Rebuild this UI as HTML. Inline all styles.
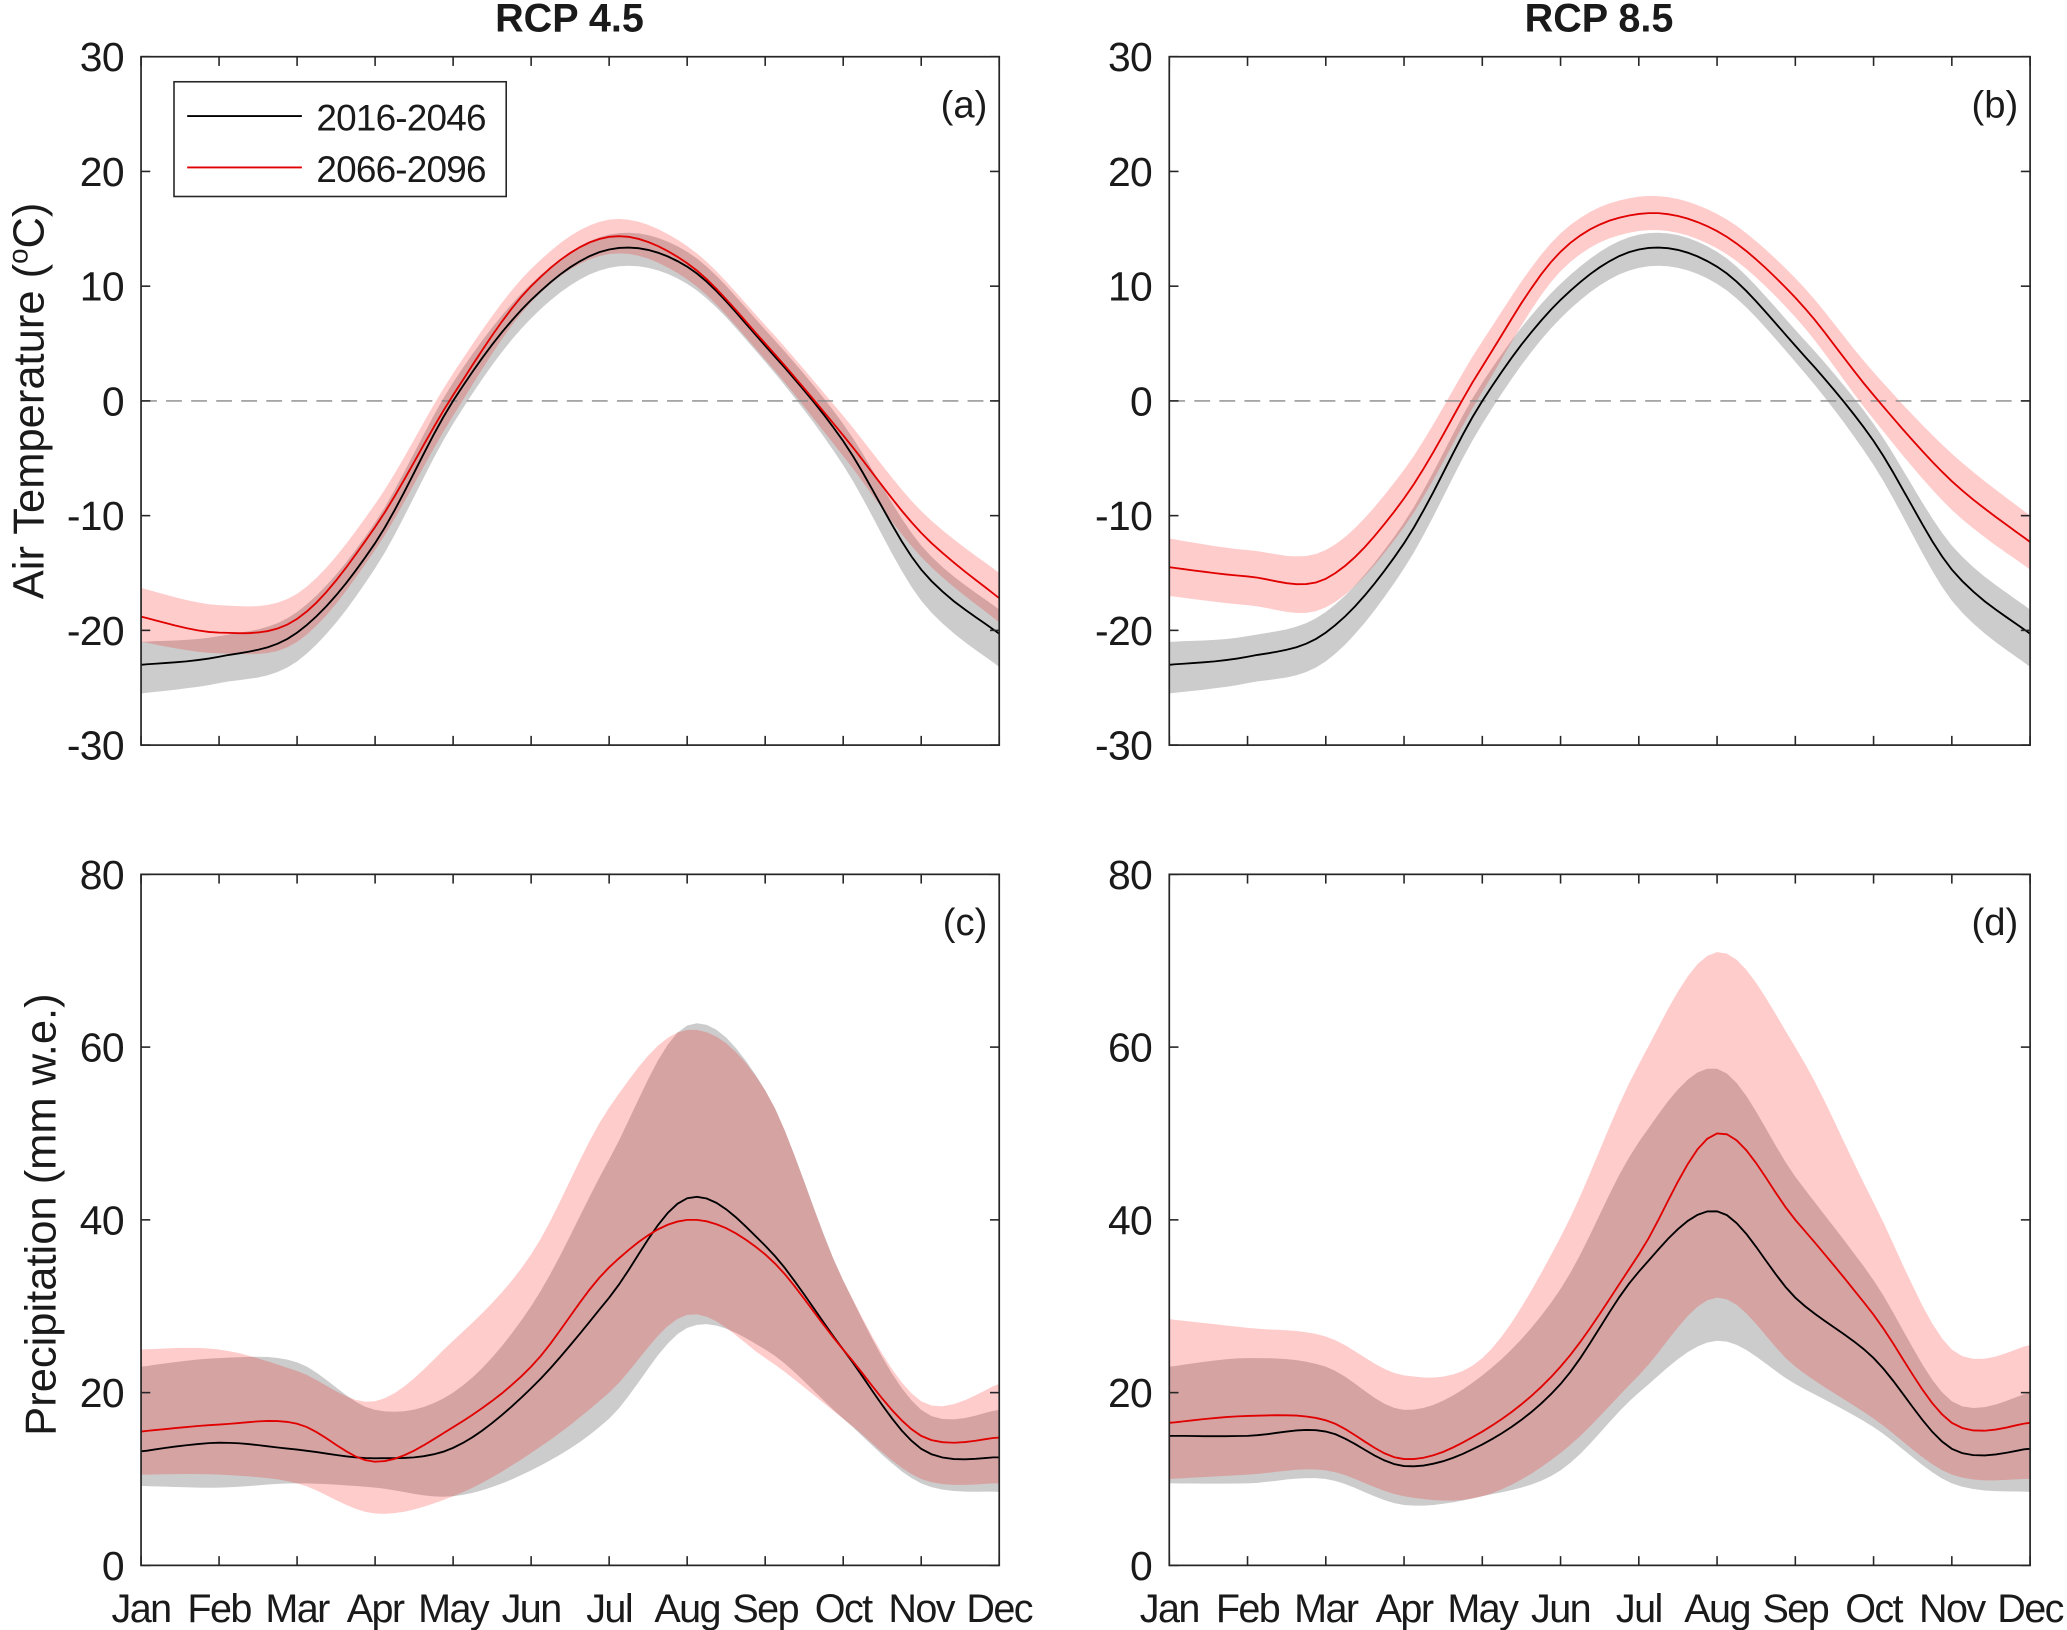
<!DOCTYPE html>
<html><head><meta charset="utf-8"><style>
html,body{margin:0;padding:0;background:#fff}
svg{display:block}
text{font-family:"Liberation Sans",Arial,sans-serif;fill:#1a1a1a}
</style></head><body>
<svg id="fig" width="2067" height="1630" viewBox="0 0 1568 1236" preserveAspectRatio="none" xmlns="http://www.w3.org/2000/svg"></svg>
<script>
const months = ["Jan","Feb","Mar","Apr","May","Jun","Jul","Aug","Sep","Oct","Nov","Dec"];
const tempTicks = [30,20,10,0,-10,-20,-30];
const precTicks = [80,60,40,20,0];
// Panel (a) RCP 4.5 temperature
const aBlack = [-23,-22.3,-20.2,-12.4,0,8.8,13.2,11.7,4.8,-3.5,-14.7,-20.3];
const aBlackLo = [-25.5,-24.6,-22.7,-14.6,-2,7.2,11.6,10.2,3.4,-5.6,-17.4,-23.2];
const aBlackHi = [-21,-20.5,-18.4,-10.6,1.6,10.2,14.5,13,6.2,-2,-12.6,-18.2];
const aRed = [-18.8,-20.2,-19,-11,0.5,10,14.3,12,5,-3,-11.5,-17.2];
const aRedLo = [-21,-22,-21,-13,-1.3,8.6,12.8,10.6,3.6,-4.8,-13.6,-19.3];
const aRedHi = [-16.3,-17.8,-16.8,-9,2.4,11.5,15.8,13.5,6.6,-1.3,-9.6,-15];
// Panel (b) RCP 8.5 temperature
const bBlack = aBlack, bBlackLo = aBlackLo, bBlackHi = aBlackHi;
const bRed = [-14.5,-15.3,-15.5,-8.5,3,13,16.3,14.8,9,0.5,-7,-12.3];
const bRedLo = [-17,-17.8,-18,-11,0.8,11.3,14.8,13.3,7.3,-1.6,-9.5,-14.7];
const bRedHi = [-12,-13,-13,-6,5.2,14.6,17.8,16.3,10.7,2.5,-4.6,-10];
// Panel (c) RCP 4.5 precipitation
const cBlack = [13.2,14.2,13.4,12.4,13.6,20.5,31,42.5,37,25,13.5,12.5];
const cBlackLo = [9.2,9,9.5,9,8,11,17,27.5,25,17,9.5,8.5];
const cBlackHi = [23,24,23.5,18,20,30,47,62.5,55,33,18,18];
const cRed = [15.5,16.3,16.4,12,16,23,34.5,40,36,25,15,14.8];
const cRedLo = [10.5,10.5,9.5,6,8,13,20,29,24,17,10,9.5];
const cRedHi = [25,25,22.5,19,26,36,53,62,55,33,19,21];
// Panel (d) RCP 8.5 precipitation
const dBlack = [15,15,15.5,11.5,14,21,34,41,31,24,13.5,13.5];
const dBlackLo = [9.5,9.5,10,7,8,11,20,26,21,16,9.5,8.5];
const dBlackHi = [23,24,23,18,22,32,49,57.5,45,33,19,20];
const dRed = [16.5,17.3,16.8,12.3,15.5,23,36,50,40,29,16.5,16.5];
const dRedLo = [10,10.5,11,8,8,13,22,31,23,17,10.5,10];
const dRedHi = [28.5,27.5,26.5,22,24,38,58,71,60,42,25,25.5];

const NS="http://www.w3.org/2000/svg";
const svg=document.getElementById('fig');
function mk(tag,attrs,parent){const e=document.createElementNS(NS,tag);for(const k in attrs)e.setAttribute(k,attrs[k]);(parent||svg).appendChild(e);return e;}

function smoothPts(xs,ys){
  const out=[];const n=xs.length;
  for(let i=0;i<n-1;i++){
    const p0=[xs[Math.max(i-1,0)],ys[Math.max(i-1,0)]],p1=[xs[i],ys[i]],p2=[xs[i+1],ys[i+1]],p3=[xs[Math.min(i+2,n-1)],ys[Math.min(i+2,n-1)]];
    for(let s=0;s<8;s++){const t=s/8,t2=t*t,t3=t2*t;
      const f=(a,b,c,d)=>0.5*(2*b+(-a+c)*t+(2*a-5*b+4*c-d)*t2+(-a+3*b-3*c+d)*t3);
      out.push([f(p0[0],p1[0],p2[0],p3[0]),f(p0[1],p1[1],p2[1],p3[1])]);}
  }
  out.push([xs[n-1],ys[n-1]]);return out;
}

function panel(opt){
  const g=mk('g',{});
  
  
  const L=opt.x0,R=opt.x1,T=opt.y0,B=opt.y1;
  const xS=i=>L+(R-L)*i/11;
  const yS=v=>B-(B-T)*(v-opt.min)/(opt.max-opt.min);
  const xs=months.map((m,i)=>xS(i));
  function band(lo,hi,fill,nm){
    const a=smoothPts(xs,hi.map(yS)),b=smoothPts(xs,lo.map(yS)).reverse();
    const p=mk('path',{d:'M'+a.concat(b).map(q=>q[0].toFixed(1)+','+q[1].toFixed(1)).join('L')+'Z',fill:fill},g);
    
    
  }
  function line(v,col,nm){
    const a=smoothPts(xs,v.map(yS));
    const p=mk('path',{d:'M'+a.map(q=>q[0].toFixed(1)+','+q[1].toFixed(1)).join('L'),fill:'none',stroke:col,'stroke-width':1.4},g);
    
    
  }
  band(opt.bLo,opt.bHi,'#cccccc','band-2016-2046');
  band(opt.rLo,opt.rHi,'rgba(255,0,0,0.2)','band-2066-2096');
  if(opt.zero){const z=mk('line',{x1:L,x2:R,y1:yS(0),y2:yS(0),stroke:'#888','stroke-width':1,'stroke-dasharray':'12,7'},g);
    }
  line(opt.b,'#000','line-2016-2046');
  line(opt.r,'#e00000','line-2066-2096');
  const box=mk('rect',{x:L,y:T,width:R-L,height:B-T,fill:'none',stroke:'#262626','stroke-width':1.3},g);
  
  months.forEach((m,i)=>{
    mk('line',{x1:xS(i),x2:xS(i),y1:B,y2:B-7,stroke:'#262626','stroke-width':1.2},g);
    mk('line',{x1:xS(i),x2:xS(i),y1:T,y2:T+7,stroke:'#262626','stroke-width':1.2},g);
    if(opt.xlabels){const t=mk('text',{x:xS(i),y:B+43,'text-anchor':'middle','font-size':30,'letter-spacing':-1.2},g);t.textContent=m;
      }
  });
  opt.ticks.forEach(v=>{
    mk('line',{x1:L,x2:L+7,y1:yS(v),y2:yS(v),stroke:'#262626','stroke-width':1.2},g);
    mk('line',{x1:R,x2:R-7,y1:yS(v),y2:yS(v),stroke:'#262626','stroke-width':1.2},g);
    const t=mk('text',{x:L-13,y:yS(v)+11,'text-anchor':'end','font-size':31,'letter-spacing':-0.5},g);t.textContent=v;
    
  });
  const lb=mk('text',{x:R-9,y:T+46,'text-anchor':'end','font-size':29},g);lb.textContent=opt.label;
  
}
const Ax=[107,758],Bx=[887,1540],Ty=[43,565],Py=[663,1187];
panel({name:'panel-a',x0:Ax[0],x1:Ax[1],y0:Ty[0],y1:Ty[1],min:-30,max:30,ticks:tempTicks,zero:true,label:'(a)',b:aBlack,bLo:aBlackLo,bHi:aBlackHi,r:aRed,rLo:aRedLo,rHi:aRedHi});
panel({name:'panel-b',x0:Bx[0],x1:Bx[1],y0:Ty[0],y1:Ty[1],min:-30,max:30,ticks:tempTicks,zero:true,label:'(b)',b:bBlack,bLo:bBlackLo,bHi:bBlackHi,r:bRed,rLo:bRedLo,rHi:bRedHi});
panel({name:'panel-c',x0:Ax[0],x1:Ax[1],y0:Py[0],y1:Py[1],min:0,max:80,ticks:precTicks,xlabels:true,label:'(c)',b:cBlack,bLo:cBlackLo,bHi:cBlackHi,r:cRed,rLo:cRedLo,rHi:cRedHi});
panel({name:'panel-d',x0:Bx[0],x1:Bx[1],y0:Py[0],y1:Py[1],min:0,max:80,ticks:precTicks,xlabels:true,label:'(d)',b:dBlack,bLo:dBlackLo,bHi:dBlackHi,r:dRed,rLo:dRedLo,rHi:dRedHi});

let t=mk('text',{x:432,y:24,'text-anchor':'middle','font-size':30,'font-weight':'bold'});t.textContent='RCP 4.5';

t=mk('text',{x:1213,y:24,'text-anchor':'middle','font-size':30,'font-weight':'bold'});t.textContent='RCP 8.5';

t=mk('text',{x:0,y:0,'text-anchor':'middle','font-size':33,transform:'translate(33,304) rotate(-90)'});
t.innerHTML='Air Temperature (<tspan dy="-12" font-size="21">o</tspan><tspan dy="12">C)</tspan>';

t=mk('text',{x:0,y:0,'text-anchor':'middle','font-size':33,transform:'translate(42,921) rotate(-90)'});t.textContent='Precipitation (mm w.e.)';

const lg=mk('g',{});

mk('rect',{x:132,y:62,width:252,height:87,fill:'#fff',stroke:'#262626','stroke-width':1.2},lg);
mk('line',{x1:142,x2:229,y1:88,y2:88,stroke:'#000','stroke-width':1.4},lg);
mk('line',{x1:142,x2:229,y1:127,y2:127,stroke:'#e00000','stroke-width':1.4},lg);
t=mk('text',{x:240,y:99,'font-size':28,'letter-spacing':-0.6},lg);t.textContent='2016-2046';

t=mk('text',{x:240,y:138,'font-size':28,'letter-spacing':-0.6},lg);t.textContent='2066-2096';

</script>
</body></html>
